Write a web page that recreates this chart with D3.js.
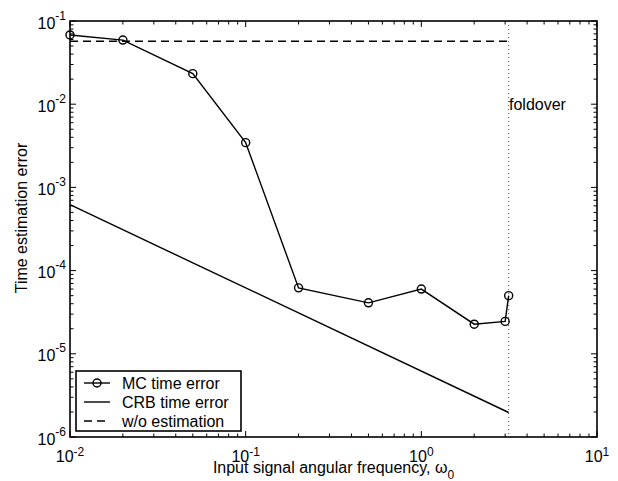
<!DOCTYPE html>
<html>
<head>
<meta charset="utf-8">
<script src="https://cdn.jsdelivr.net/npm/d3@7"></script>
<style>
  html, body { margin: 0; padding: 0; background: #fff; }
  svg text { font-family: "Liberation Sans", Arial, Helvetica, sans-serif; fill: #000; }
</style>
</head>
<body>
<svg id="chart" width="618" height="481"></svg>
<script>
// Monte Carlo time estimation error versus input angular frequency
const omegaMC = [0.01, 0.02, 0.05, 0.1, 0.2, 0.5, 1, 2, 3, 3.1416];
const mcErr   = [0.068, 0.059, 0.0233, 0.00345, 6.2e-5, 4.1e-5, 6.0e-5, 2.27e-5, 2.45e-5, 5.0e-5];

// Cramér–Rao bound on the time error
const omegaCRB = [0.01, 3.1416];
const crbErr   = [6.2e-4, 1.97e-6];

// Error level without any estimation
const omegaWo = [0.01, 3.1416];
const woErr   = [0.057, 0.057];

// Nyquist foldover frequency
const foldoverOmega = 3.1416;

// Axis decades
const xTickExp = [-2, -1, 0, 1];
const yTickExp = [-6, -5, -4, -3, -2, -1];

const legendLabels = ["MC time error", "CRB time error", "w/o estimation"];

const svg = d3.select("#chart");
const L = 70, R = 597, T = 21, B = 437;

const x = d3.scaleLog().domain([1e-2, 1e1]).range([L, R]);
const y = d3.scaleLog().domain([1e-6, 1e-1]).range([B, T]);

// minor + major tick values
function logTicks(lo, hi) {
  const out = [];
  for (let e = lo; e < hi; e++) for (let m = 1; m < 10; m++) out.push({v: m * Math.pow(10, e), major: m === 1});
  out.push({v: Math.pow(10, hi), major: true});
  return out;
}
const xt = logTicks(-2, 1);
const yt = logTicks(-6, -1);

const g = svg.append("g");

// inward ticks on all four sides
const tickG = g.append("g").attr("stroke", "#000").attr("stroke-width", 1);
xt.forEach(t => {
  const len = t.major ? 6 : 3.5;
  const px = x(t.v);
  tickG.append("line").attr("x1", px).attr("x2", px).attr("y1", B).attr("y2", B - len);
  tickG.append("line").attr("x1", px).attr("x2", px).attr("y1", T).attr("y2", T + len);
});
yt.forEach(t => {
  const len = t.major ? 6 : 3.5;
  const py = y(t.v);
  tickG.append("line").attr("x1", L).attr("x2", L + len).attr("y1", py).attr("y2", py);
  tickG.append("line").attr("x1", R).attr("x2", R - len).attr("y1", py).attr("y2", py);
});

// tick labels as powers of ten
xTickExp.forEach(e => {
  const t = g.append("text").attr("x", x(Math.pow(10, e))).attr("y", 461.5)
    .attr("text-anchor", "middle").style("font-size", "16px");
  t.append("tspan").text("10");
  t.append("tspan").attr("dy", -6).style("font-size", "12px").text(String(e));
});
yTickExp.forEach(e => {
  const t = g.append("text").attr("x", 66).attr("y", y(Math.pow(10, e)) + 7.5)
    .attr("text-anchor", "end").style("font-size", "16px");
  t.append("tspan").text("10");
  t.append("tspan").attr("dy", -9).style("font-size", "12px").text(String(e));
});

// foldover marker
g.append("line")
  .attr("x1", x(foldoverOmega)).attr("x2", x(foldoverOmega))
  .attr("y1", T).attr("y2", B)
  .attr("stroke", "#555").attr("stroke-width", 1).attr("stroke-dasharray", "1,3");
g.append("text").attr("x", 509).attr("y", 110).style("font-size", "16px").text("foldover");

const line = d3.line().x(d => x(d[0])).y(d => y(d[1]));

// w/o estimation (dashed)
g.append("path").datum(d3.zip(omegaWo, woErr)).attr("d", line)
  .attr("fill", "none").attr("stroke", "#000").attr("stroke-width", 1.4).attr("stroke-dasharray", "8,5");

// CRB (solid)
g.append("path").datum(d3.zip(omegaCRB, crbErr)).attr("d", line)
  .attr("fill", "none").attr("stroke", "#000").attr("stroke-width", 1.4);

// MC with circle markers
const mcData = d3.zip(omegaMC, mcErr);
g.append("path").datum(mcData).attr("d", line)
  .attr("fill", "none").attr("stroke", "#000").attr("stroke-width", 1.4);
g.selectAll("circle.mc").data(mcData).enter().append("circle")
  .attr("class", "mc").attr("cx", d => x(d[0])).attr("cy", d => y(d[1])).attr("r", 4)
  .attr("fill", "none").attr("stroke", "#000").attr("stroke-width", 1.4);

// axes box
g.append("rect").attr("x", L).attr("y", T).attr("width", R - L).attr("height", B - T)
  .attr("fill", "none").attr("stroke", "#000").attr("stroke-width", 1.6);

// axis titles
const xt2 = g.append("text").attr("x", (L + R) / 2).attr("y", 473)
  .attr("text-anchor", "middle").style("font-size", "16px");
xt2.append("tspan").text("Input signal angular frequency, \u03c9");
xt2.append("tspan").attr("dy", 6).style("font-size", "12px").text("0");

g.append("text").attr("transform", "translate(27,218) rotate(-90)")
  .attr("text-anchor", "middle").style("font-size", "16px").text("Time estimation error");

// legend
const lg = g.append("g");
lg.append("rect").attr("x", 76).attr("y", 371).attr("width", 165).attr("height", 60)
  .attr("fill", "#fff").attr("stroke", "#000").attr("stroke-width", 1.6);
const rowsY = [383, 402, 421];
legendLabels.forEach((lab, i) => {
  const ly = rowsY[i];
  const ln = lg.append("line").attr("x1", 84).attr("x2", 110).attr("y1", ly).attr("y2", ly)
    .attr("stroke", "#000").attr("stroke-width", 1.4);
  if (i === 2) ln.attr("stroke-dasharray", "8,5");
  if (i === 0) lg.append("circle").attr("cx", 97).attr("cy", ly).attr("r", 4)
    .attr("fill", "none").attr("stroke", "#000").attr("stroke-width", 1.4);
  lg.append("text").attr("x", 122).attr("y", ly + 5.5).style("font-size", "16px").text(lab);
});
</script>
</body>
</html>
